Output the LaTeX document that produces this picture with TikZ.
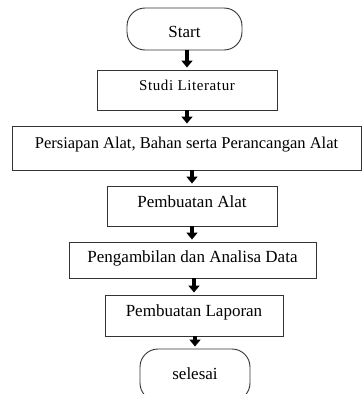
\documentclass[tikz,border=0pt]{standalone}
\usepackage{fontspec}
\setmainfont{Liberation Serif}
\usepackage{tikz}
\usetikzlibrary{positioning,arrows.meta}

\tikzset{
  flowbox/.style={draw=black!80, line width=0.9pt, inner xsep=0pt, inner ysep=0pt,
    font=\fontsize{17}{20}\selectfont},
  terminal/.style={flowbox, rounded corners=18pt},
  flowarrow/.style={line width=3.2pt, -{Triangle[width=11pt,length=7pt]}, shorten >=2pt}
}

\begin{document}
\begin{tikzpicture}[x=1pt,y=-1pt]
					\useasboundingbox (0,0) rectangle (362,394);
					\node[terminal, minimum width=115pt, text height=29pt, text depth=13pt](start) at (184.5,29){Start};
					\node[flowbox, minimum width=180pt, text height=20pt, text depth=20pt,
					      font=\fontsize{15}{18}\selectfont\addfontfeature{LetterSpace=4}](studi) at (187,90){Studi Literatur};
					\node[flowbox, minimum width=349pt, text height=22pt, text depth=22pt,
					      font=\fontsize{16.5}{20}\selectfont](persiapan) at (186.5,148){Persiapan Alat, Bahan serta Perancangan Alat};
					\node[flowbox, minimum width=170pt, text height=21pt, text depth=19pt](alat) at (192,206){Pembuatan Alat};
					\node[flowbox, minimum width=247pt, text height=20pt, text depth=16pt](data) at (192.5,260){Pengambilan dan Analisa Data};
					\node[flowbox, minimum width=178pt, text height=21pt, text depth=20pt](laporan) at (194,315.5){Pembuatan Laporan};
					\node[terminal, minimum width=110pt, text height=30pt, text depth=22pt](selesai) at (195,375){selesai};
					
					\draw[flowarrow] (studi.north |- start.south) -- (studi.north);
					\draw[flowarrow] (studi.south) -- (studi.south |- persiapan.north);
					\draw[flowarrow] (alat.north |- persiapan.south) -- (alat.north);
					\draw[flowarrow] (alat.south) -- (alat.south |- data.north);
					\draw[flowarrow] (laporan.north |- data.south) -- (laporan.north);
					\draw[flowarrow] (selesai.north |- laporan.south) -- (selesai.north);
				\end{tikzpicture}
\end{document}
